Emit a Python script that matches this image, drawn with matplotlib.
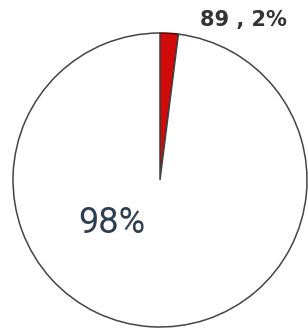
import matplotlib
matplotlib.use("Agg")
import matplotlib.pyplot as plt

labels = ["red", "rest"]
values = [89, 4361]
colors = ["#d10a0a", "#ffffff"]
edges = ["#5a0000", "#444444"]

fig = plt.figure(figsize=(3.08, 3.34), dpi=100)
# circle centre ~ (160, 180) px, radius ~147 px
ax = fig.add_axes([13 / 308, 7 / 334, 294 / 308, 294 / 334])

wedges, _ = ax.pie(values, colors=colors, startangle=90, counterclock=False,
                   radius=1.0, wedgeprops=dict(linewidth=1.1))
for w, ec in zip(wedges, edges):
    w.set_edgecolor(ec)
    w.set_clip_on(False)

total = sum(values)
pct = [v / total * 100 for v in values]

ax.text(0.57, 1.09, f"{values[0]} , {pct[0]:.0f}%", ha="center", va="center",
        fontsize=15, fontweight="bold", color="#333333")
ax.text(-0.327, -0.29, f"{pct[1]:.0f}%", ha="center", va="center",
        fontsize=26, family="Roboto", color="#2c3e50")

ax.set_xlim(-1, 1)
ax.set_ylim(-1, 1)
ax.axis("off")

fig.savefig("out.png", dpi=100)
